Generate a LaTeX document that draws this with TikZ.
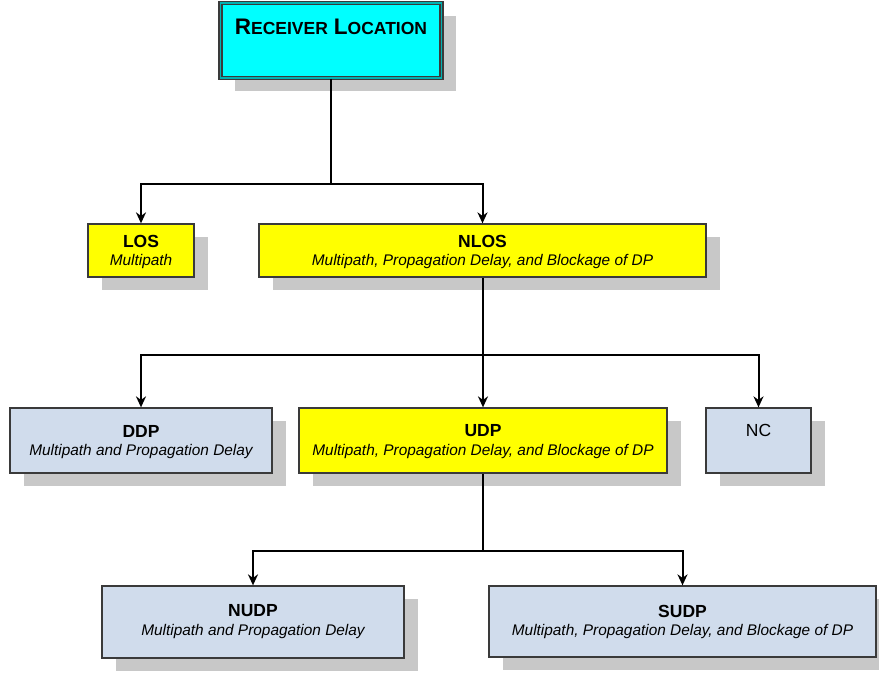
\documentclass[tikz,border=0pt]{standalone}
\usepackage{fontspec}
\setmainfont{Liberation Sans}
\usetikzlibrary{shadows,arrows.meta}
\definecolor{boxline}{HTML}{3A3A3A}
\definecolor{shadowgray}{HTML}{C8C8C8}
\definecolor{lightblue}{HTML}{D0DCEC}
\definecolor{cyanbox}{HTML}{00FFFF}
\definecolor{yellowbox}{HTML}{FFFF00}
\tikzset{
  box/.style={draw=boxline, line width=1.3pt, inner sep=0pt,
    general shadow={fill=shadowgray, shadow xshift=14pt, shadow yshift=-13pt}},
  ybox/.style={box, fill=yellowbox},
  bbox/.style={box, fill=lightblue},
  head/.style={font=\fontsize{17.5}{17.5}\selectfont\bfseries, inner sep=0pt},
  sub/.style={font=\fontsize{15.4}{15.4}\selectfont\itshape, inner sep=0pt},
  conn/.style={line width=2pt, draw=black},
  arr/.style={conn, -{Stealth[length=11pt,width=10pt]}},
}
\begin{document}
\begin{tikzpicture}[x=1pt,y=-1pt]
\useasboundingbox (0,0) rectangle (879,673);
% Receiver
\node[box, fill=cyanbox, double=teal!60!cyan, double distance=1.6pt,
  minimum width=221pt, minimum height=75pt] (rec) at (331,40.5) {};
\node[inner sep=0pt, font=\bfseries] (rect) at (331,27) {{\fontsize{22.5}{22.5}\selectfont R}{\fontsize{17.5}{17.5}\selectfont ECEIVER}\hspace{6pt}{\fontsize{22.5}{22.5}\selectfont L}{\fontsize{17.5}{17.5}\selectfont OCATION}};
% Level 1
\node[ybox, minimum width=106pt, minimum height=53pt] (los) at (141,250.5) {};
\node[head] (losh) at (141,241) {LOS};
\node[sub] (loss) at (141,262) {Multipath};
\node[ybox, minimum width=447pt, minimum height=53pt] (nlos) at (482.5,250.5) {};
\node[head] (nlosh) at (482.5,241) {NLOS};
\node[sub] (nloss) at (482.5,262) {Multipath, Propagation Delay, and Blockage of DP};
% Level 2
\node[bbox, minimum width=262pt, minimum height=65pt] (ddp) at (141,440.5) {};
\node[head] (ddph) at (141,431) {DDP};
\node[sub] (ddps) at (141,451.5) {Multipath and Propagation Delay};
\node[ybox, minimum width=368pt, minimum height=65pt] (udp) at (483,440.5) {};
\node[head] (udph) at (483,431) {UDP};
\node[sub] (udps) at (483,451.5) {Multipath, Propagation Delay, and Blockage of DP};
\node[bbox, minimum width=105pt, minimum height=65pt] (nc) at (758.5,440.5) {};
\node[inner sep=0pt, font=\fontsize{17.5}{17.5}\selectfont] (nch) at (758.5,430) {NC};
% Level 3
\node[bbox, minimum width=302pt, minimum height=72pt] (nudp) at (253,622) {};
\node[head] (nudph) at (253,611) {NUDP};
\node[sub] (nudps) at (253,632) {Multipath and Propagation Delay};
\node[bbox, minimum width=387pt, minimum height=71pt] (sudp) at (682.5,621.5) {};
\node[head] (sudph) at (682.5,611) {SUDP};
\node[sub] (sudps) at (682.5,632) {Multipath, Propagation Delay, and Blockage of DP};
% Connectors
\coordinate (j1) at (331,184);
\coordinate (j2) at (483,355);
\coordinate (j3) at (483,551);
\draw[conn] (rec.south) -- (j1);
\draw[arr] (j1) -| (los.north);
\draw[arr] (j1) -| (nlos.north);
\draw[conn] (nlos.south -| j2) -- (j2);
\draw[arr] (j2) -| (ddp.north);
\draw[arr] (j2) -- (udp.north);
\draw[arr] (j2) -| (nc.north);
\draw[conn] (udp.south) -- (j3);
\draw[arr] (j3) -| (nudp.north);
\draw[arr] (j3) -| (sudp.north);
\end{tikzpicture}
\end{document}
